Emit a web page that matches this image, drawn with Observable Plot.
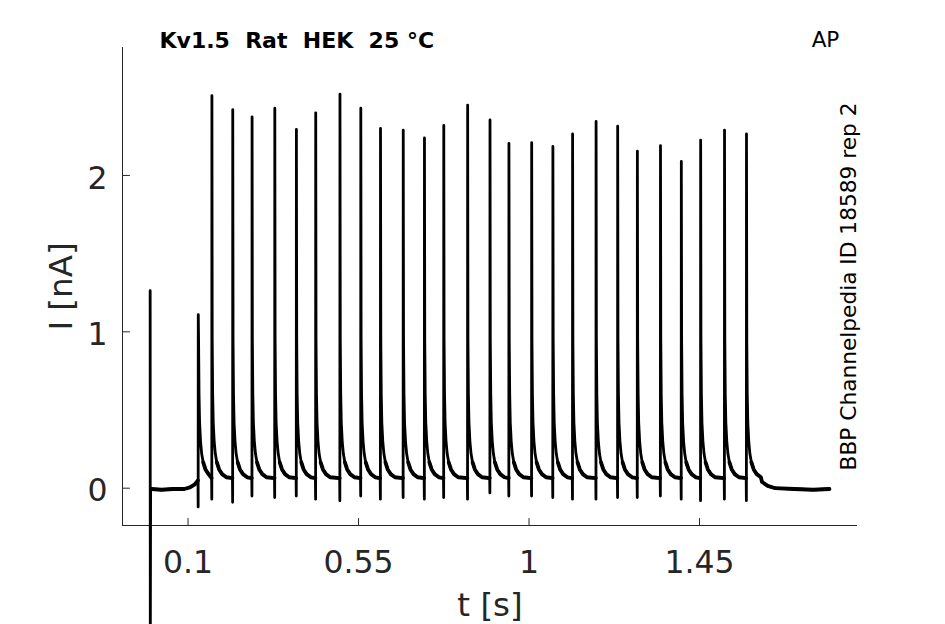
<!DOCTYPE html>
<html><head><meta charset="utf-8">
<script src="https://cdn.jsdelivr.net/npm/d3@7"></script>
<script src="https://cdn.jsdelivr.net/npm/@observablehq/plot@0.6"></script>
<style>html,body{margin:0;padding:0;background:#fff;overflow:hidden}</style>
</head><body><div id="chart"></div>
<script>
const title = "Kv1.5  Rat  HEK  25 °C";
const protocolLabel = "AP";
const sourceLabel = "BBP Channelpedia ID 18589 rep 2";
const xLabel = "t [s]";
const yLabel = "I [nA]";
const xTicks = [0.1, 0.55, 1, 1.45];
const yTicks = [0, 1, 2];
const xDomain = [-0.073, 1.867];
const yDomain = [-0.2385, 2.818];

// capacitive artifact at t = 0
const artifactT = [0, 0.0004, 0.0012];
const artifactI = [1.264, -1.0, -0.005];
// holding baseline before the train
const preT = [0.003, 0.03, 0.06, 0.09, 0.105, 0.118, 0.1262];
const preI = [-0.005, -0.01, -0.005, -0.005, 0.005, 0.025, 0.05];
// spikes: time (s), peak (nA), dip (nA)
const spikeT = [0.127, 0.163, 0.218, 0.269, 0.329, 0.386, 0.437, 0.501, 0.556, 0.608, 0.668, 0.724, 0.775, 0.838, 0.897, 0.947, 1.007, 1.063, 1.115, 1.177, 1.234, 1.286, 1.347, 1.402, 1.453, 1.516, 1.574];
const spikePeak = [1.11, 2.51, 2.42, 2.375, 2.43, 2.295, 2.40, 2.52, 2.43, 2.30, 2.29, 2.24, 2.32, 2.45, 2.355, 2.205, 2.21, 2.185, 2.265, 2.345, 2.315, 2.155, 2.19, 2.09, 2.225, 2.29, 2.265];
const spikeDip = [-0.12, -0.07, -0.09, -0.05, -0.06, -0.05, -0.07, -0.08, -0.05, -0.07, -0.06, -0.07, -0.06, -0.07, -0.03, -0.05, -0.05, -0.06, -0.07, -0.07, -0.06, -0.06, -0.05, -0.07, -0.08, -0.07, -0.08];
// decay tail after each spike (offset s, current nA)
const tailOffset = [0.0008, 0.002, 0.0035, 0.006, 0.009, 0.013, 0.019, 0.027, 0.038];
const tailI = [0.95, 0.6, 0.42, 0.3, 0.22, 0.165, 0.12, 0.09, 0.07];
const interBaseI = 0.065;
// baseline after the train
const postT = [1.615, 1.63, 1.65, 1.70, 1.75, 1.793];
const postI = [0.04, 0.015, 0.0, -0.005, -0.01, -0.005];

const trace = [];
const flat = [];
artifactT.forEach((t, k) => trace.push({t, i: artifactI[k]}));
preT.forEach((t, k) => { const p = {t, i: preI[k]}; trace.push(p); flat.push({...p, seg: 0}); });
spikeT.forEach((ts, n) => {
  const last = n + 1 >= spikeT.length;
  const next = last ? postT[0] : spikeT[n + 1];
  trace.push({t: ts - 0.0003, i: spikeDip[n]});
  trace.push({t: ts, i: spikePeak[n]});
  tailOffset.forEach((o, k) => {
    if (ts + o < next - 0.002) {
      const p = {t: ts + o, i: tailI[k]};
      trace.push(p);
      if (o >= 0.013) flat.push({...p, seg: n + 1});
    }
  });
  if (!last) { const p = {t: next - 0.0008, i: interBaseI}; trace.push(p); flat.push({...p, seg: n + 1}); }
});
postT.forEach((t, k) => { const p = {t, i: postI[k]}; trace.push(p); flat.push({...p, seg: spikeT.length}); });

const axisColor = "#262626";
const tickShape = {draw(context, l) { context.moveTo(0, 0); context.lineTo(0, -l); }};
const chart = Plot.plot({
  width: 945, height: 624,
  marginLeft: 122, marginRight: 88, marginTop: 47, marginBottom: 99,
  x: {domain: xDomain},
  y: {domain: yDomain},
  style: {fontFamily: "DejaVu Sans", background: "#fff", color: axisColor},
  marks: [
    Plot.ruleX([xDomain[0]], {stroke: axisColor, strokeWidth: 1}),
    Plot.ruleY([yDomain[0]], {stroke: axisColor, strokeWidth: 1}),
    Plot.vector(xTicks, {x: d => d, y: yDomain[0], length: 7, rotate: 0, anchor: "start", shape: tickShape, stroke: axisColor, strokeWidth: 1}),
    Plot.vector(yTicks, {x: xDomain[0], y: d => d, length: 7, rotate: 90, anchor: "start", shape: tickShape, stroke: axisColor, strokeWidth: 1}),
    Plot.axisX(xTicks, {tickSize: 0, tickPadding: 25, fontSize: 31.5, label: null, tickFormat: d => String(d)}),
    Plot.axisY(yTicks, {tickSize: 0, tickPadding: 15, fontSize: 31.5, label: null, dy: 3, tickFormat: d => String(d)}),
    Plot.line(trace, {x: "t", y: "i", stroke: "black", strokeWidth: 2.8}),
    Plot.line(flat, {x: "t", y: "i", z: "seg", stroke: "black", strokeWidth: 3.8}),
    Plot.text([title], {text: d => d, frameAnchor: "top-left", dx: 37, lineAnchor: "bottom", textAnchor: "start", fontWeight: "bold", fontSize: 22, fill: "black"}),
    Plot.text([protocolLabel], {text: d => d, frameAnchor: "top-right", dx: -32, dy: -1, lineAnchor: "bottom", textAnchor: "middle", fontSize: 21.5, fill: "black"}),
    Plot.text([sourceLabel], {text: d => d, frameAnchor: "right", dx: -2, rotate: -90, lineAnchor: "bottom", textAnchor: "middle", fontSize: 21.7, fill: "black"}),
    Plot.text([xLabel], {text: d => d, frameAnchor: "bottom", dy: 90, lineAnchor: "bottom", textAnchor: "middle", fontSize: 32.5, fill: axisColor}),
    Plot.text([yLabel], {text: d => d, frameAnchor: "left", dx: -51, rotate: -90, lineAnchor: "bottom", textAnchor: "middle", fontSize: 32.5, fill: axisColor})
  ]
});
document.getElementById("chart").appendChild(chart);
</script>
</body></html>
